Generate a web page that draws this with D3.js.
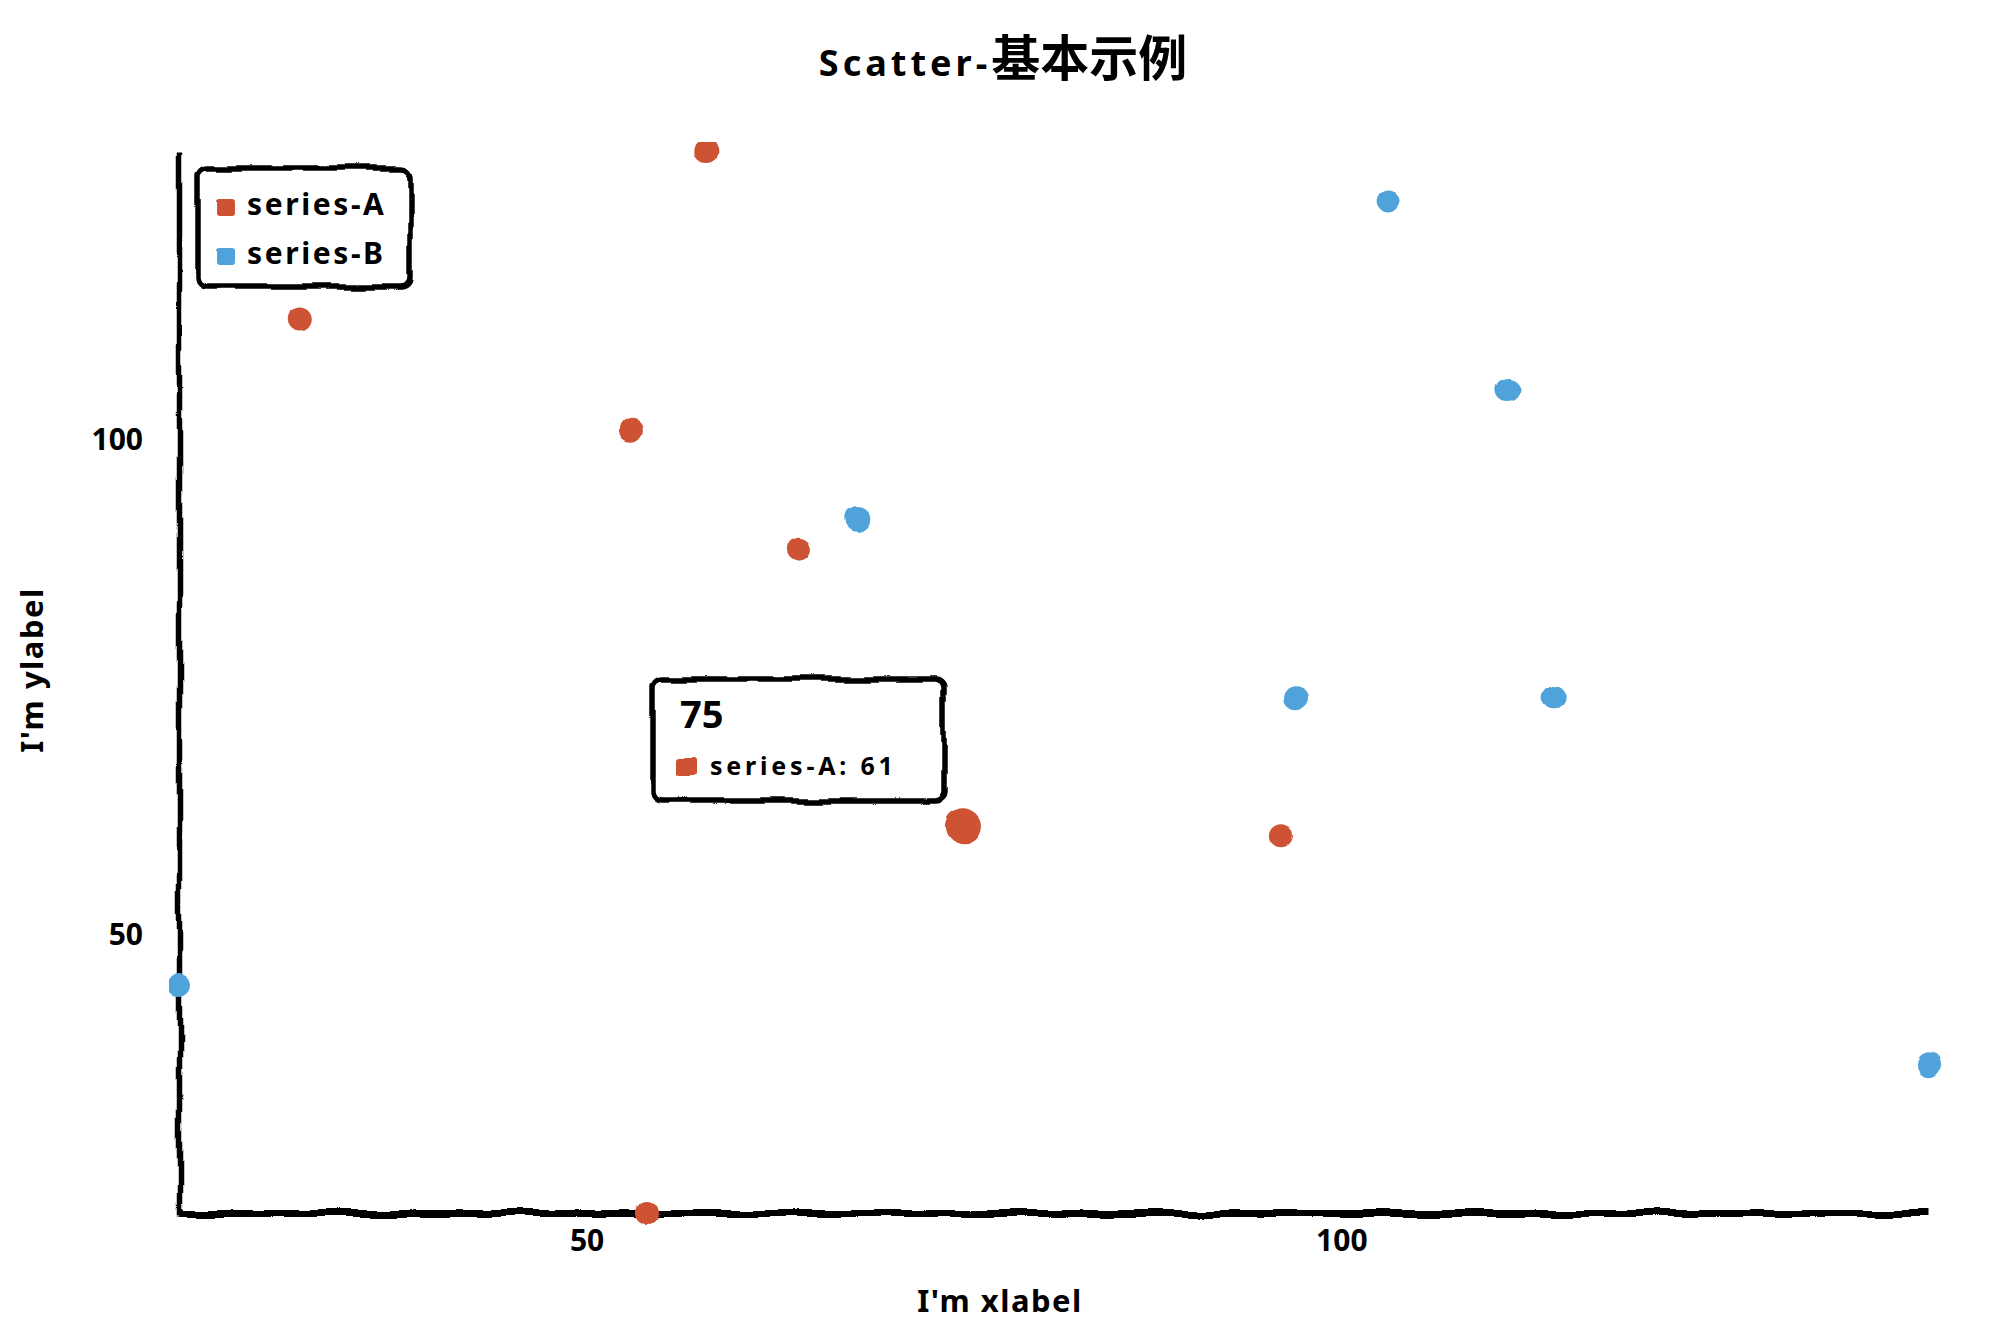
<!DOCTYPE html>
<html>
<head>
<meta charset="utf-8">
<script src="https://cdn.jsdelivr.net/npm/d3@7"></script>
<style>
html, body { margin: 0; padding: 0; background: #fff; }
svg { display: block; }
text { font-family: "Noto Sans", "Noto Sans CJK SC", sans-serif; fill: #000; font-weight: bold; }
</style>
</head>
<body>
<svg id="chart" width="2000" height="1326"></svg>
<script>
// ---- data ----
const titleLatin = "Scatter-";
const titleCJK = "基本示例";
const xLabel = "I'm xlabel";
const yLabel = "I'm ylabel";
const seriesNames = ["series-A", "series-B"];
const seriesColors = ["#ce5236", "#50a3da"];
const seriesAX = [31, 58, 53, 64, 75, 96, 54];
const seriesAY = [112, 129, 101, 89, 61, 60, 22];
const seriesBX = [23, 68, 103, 111, 97, 114, 139];
const seriesBY = [45, 92, 124, 105, 74, 74, 37];
const xTicks = [50, 100];
const yTicks = [50, 100];
const hovered = { series: 0, index: 4 };

// ---- layout ----
const W = 2000, H = 1326;
const margin = { left: 179, top: 152, right: 70, bottom: 113 };
const pw = W - margin.left - margin.right;
const ph = H - margin.top - margin.bottom;

const svg = d3.select("#chart");
const defs = svg.append("defs");
const filter = defs.append("filter")
  .attr("id", "xkcdify")
  .attr("filterUnits", "userSpaceOnUse")
  .attr("x", -10).attr("y", -10).attr("width", W + 20).attr("height", H + 20);
filter.append("feTurbulence")
  .attr("type", "fractalNoise").attr("baseFrequency", "0.022").attr("result", "noise");
filter.append("feDisplacementMap")
  .attr("scale", "11").attr("xChannelSelector", "R").attr("yChannelSelector", "G")
  .attr("in", "SourceGraphic").attr("in2", "noise");

const seriesXs = [seriesAX, seriesBX];
const seriesYs = [seriesAY, seriesBY];
const points = [];
seriesXs.forEach((xs, s) => xs.forEach((xv, i) => points.push({ s, i, x: xv, y: seriesYs[s][i] })));

const x = d3.scaleLinear().domain(d3.extent(points, d => d.x)).range([0, pw]);
const y = d3.scaleLinear().domain(d3.extent(points, d => d.y)).range([ph, 0]);

// ---- title ----
const title = svg.append("text")
  .attr("x", 1003).attr("y", 76)
  .attr("text-anchor", "middle");
title.append("tspan").attr("font-size", 36).attr("letter-spacing", 4).text(titleLatin);
title.append("tspan").attr("font-size", 49).attr("font-weight", "bold")
  .attr("font-family", "'Noto Sans CJK SC', sans-serif").text(titleCJK);

const g = svg.append("g").attr("transform", `translate(${margin.left},${margin.top})`);

// ---- axes ----
const xAxis = g.append("g").attr("transform", `translate(0,${ph})`)
  .call(d3.axisBottom(x).tickValues(xTicks).tickSize(0).tickSizeOuter(0).tickPadding(17));
const yAxis = g.append("g")
  .call(d3.axisLeft(y).tickValues(yTicks).tickSize(0).tickSizeOuter(0).tickPadding(36));
xAxis.select(".domain").attr("stroke-width", 7);
yAxis.select(".domain").attr("stroke-width", 5.5);
[xAxis, yAxis].forEach(ax => {
  ax.select(".domain").attr("stroke", "#000").attr("filter", "url(#xkcdify)");
  ax.selectAll("text").attr("font-size", 30).attr("letter-spacing", 0)
    .attr("font-family", "'Noto Sans', sans-serif").attr("font-weight", "bold").attr("fill", "#000");
});

// axis labels
svg.append("text").attr("x", 1000).attr("y", 1312).attr("text-anchor", "middle")
  .attr("font-size", 31).attr("letter-spacing", 1.5).text(xLabel);
svg.append("text").attr("transform", "translate(43,670) rotate(-90)").attr("text-anchor", "middle")
  .attr("font-size", 31).attr("letter-spacing", 1.5).text(yLabel);

// ---- dots ----
g.append("g").selectAll("circle").data(points).join("circle")
  .attr("cx", d => x(d.x)).attr("cy", d => y(d.y))
  .attr("r", d => (d.s === hovered.series && d.i === hovered.index) ? 18 : 12)
  .attr("fill", d => seriesColors[d.s])
  .attr("filter", "url(#xkcdify)");

// ---- legend ----
const legend = svg.append("g").attr("transform", "translate(198,168)");
legend.append("rect").attr("width", 212).attr("height", 119).attr("rx", 9)
  .attr("fill", "#fff").attr("stroke", "#000").attr("stroke-width", 5.5).attr("filter", "url(#xkcdify)");
seriesNames.forEach((name, k) => {
  const row = legend.append("g").attr("transform", `translate(0,${k * 49})`);
  row.append("rect").attr("x", 18).attr("y", 29).attr("width", 19).attr("height", 19).attr("rx", 3)
    .attr("fill", seriesColors[k]).attr("filter", "url(#xkcdify)");
  row.append("text").attr("x", 49).attr("y", 47).attr("font-size", 30).attr("letter-spacing", 2.6).text(name);
});

// ---- tooltip ----
const hp = points.find(d => d.s === hovered.series && d.i === hovered.index);
const tip = svg.append("g").attr("transform", "translate(653,679)");
tip.append("rect").attr("width", 291).attr("height", 122).attr("rx", 9)
  .attr("fill", "#fff").attr("stroke", "#000").attr("stroke-width", 5.5).attr("filter", "url(#xkcdify)");
tip.append("text").attr("x", 27).attr("y", 49).attr("font-size", 38).attr("font-weight", "normal").text(hp.x);
tip.append("rect").attr("x", 25).attr("y", 78).attr("width", 19).attr("height", 18).attr("rx", 3)
  .attr("fill", seriesColors[hp.s]).attr("filter", "url(#xkcdify)");
tip.append("text").attr("x", 57).attr("y", 96).attr("font-size", 25).attr("letter-spacing", 3.8)
  .text(`${seriesNames[hp.s]}: ${hp.y}`);
</script>
</body>
</html>
